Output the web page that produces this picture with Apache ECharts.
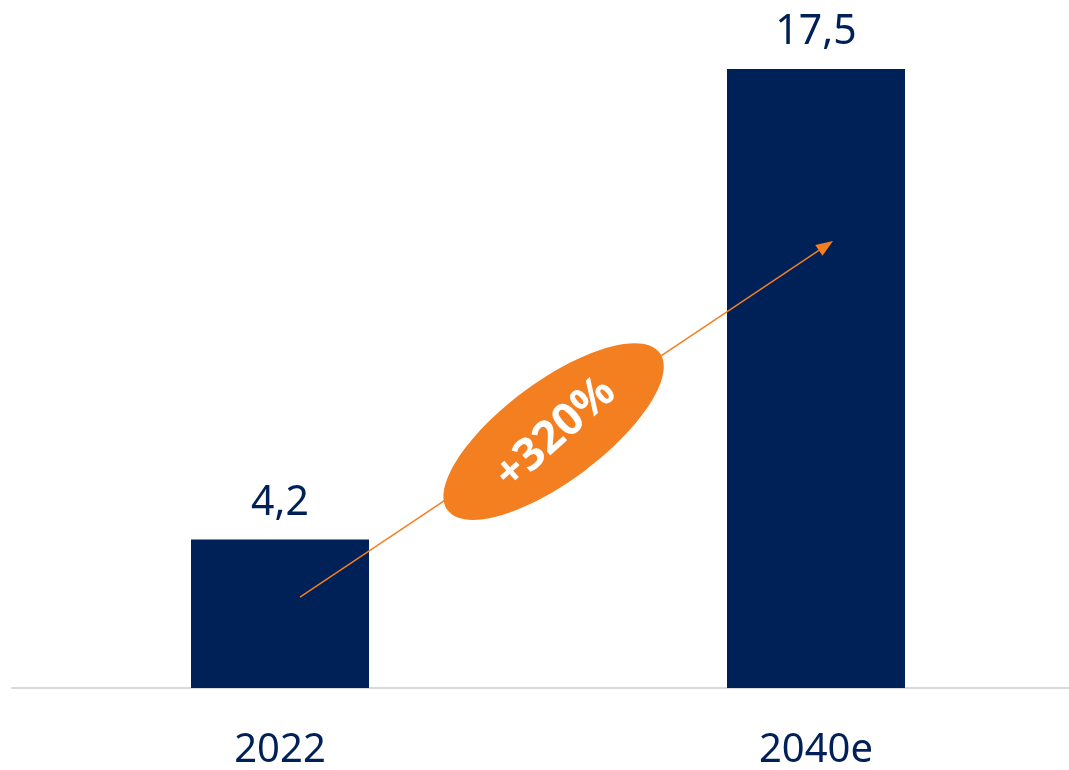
<!DOCTYPE html>
<html>
<head>
<meta charset="utf-8">
<script src="https://cdn.jsdelivr.net/npm/echarts@6/dist/echarts.min.js"></script>
<style>
  html, body { margin: 0; padding: 0; background: #ffffff; }
  #chart { width: 1069px; height: 770px; }
</style>
</head>
<body>
<div id="chart"></div>
<script>
// Market volume, 2022 vs. 2040 estimate
const years = ['2022', '2040e'];
const volumes = [4.2, 17.5];
const growthLabel = '+320%';
// Growth arrow runs from inside the first bar to inside the second one (value units)
const arrowFromValue = 2.57;
const arrowToValue = 12.64;

const NAVY = '#002157';
const ORANGE = '#F37F21';
const FONT = '"Noto Sans", "Open Sans", sans-serif';

const chart = echarts.init(document.getElementById('chart'), null, { renderer: 'canvas' });

const fmt = v => String(v).replace('.', ',');

chart.setOption({
  animation: false,
  backgroundColor: '#ffffff',
  grid: {
    left: 12, top: 69, width: 1072, bottom: 82,
    containLabel: false, outerBoundsMode: 'none'
  },
  xAxis: {
    type: 'category',
    data: years,
    axisLine: { show: true, lineStyle: { color: '#D9D9D9', width: 2 } },
    axisTick: { show: false },
    axisLabel: {
      color: NAVY, fontSize: 40, fontFamily: FONT, margin: 43
    }
  },
  yAxis: {
    type: 'value',
    min: 0,
    max: 17.5,
    show: false,
    splitLine: { show: false }
  },
  series: [{
    type: 'bar',
    data: volumes,
    barWidth: 178,
    itemStyle: { color: NAVY },
    label: {
      show: true,
      position: 'top',
      distance: 16,
      color: NAVY,
      fontSize: 41,
      fontFamily: FONT,
      formatter: p => fmt(p.value)
    }
  }]
});

// Growth annotation: arrow, ellipse and label placed through the chart's own scales
function drawAnnotation() {
  const p0 = chart.convertToPixel({ gridIndex: 0 }, [0, arrowFromValue]);
  const p1 = chart.convertToPixel({ gridIndex: 0 }, [1, arrowToValue]);
  const x0 = p0[0] + 20, y0 = p0[1];
  const x1 = p1[0] + 17, y1 = p1[1];
  const ang = Math.atan2(y0 - y1, x1 - x0);
  const head = 17, headHalf = 6.5;
  const ux = Math.cos(ang), uy = -Math.sin(ang);
  const bx = x1 - ux * head, by = y1 - uy * head;
  const nx = -uy, ny = ux;
  const t = 0.476;
  const cx = x0 + (x1 - x0) * t, cy = y0 + (y1 - y0) * t + 4;

  chart.setOption({
    graphic: [
      {
        type: 'line', z: 10,
        shape: { x1: x0, y1: y0, x2: bx, y2: by },
        style: { stroke: ORANGE, lineWidth: 1.5 }
      },
      {
        type: 'polygon', z: 10,
        shape: { points: [[x1, y1], [bx + nx * headHalf, by + ny * headHalf], [bx - nx * headHalf, by - ny * headHalf]] },
        style: { fill: ORANGE }
      },
      {
        type: 'ellipse', z: 11,
        x: cx, y: cy, rotation: ang + 0.05,
        shape: { cx: 0, cy: 0, rx: 132, ry: 50 },
        style: { fill: ORANGE }
      },
      {
        type: 'text', z: 12,
        x: cx + 2, y: cy + 2, rotation: ang + 0.14,
        style: {
          text: growthLabel,
          fill: '#ffffff',
          font: 'bold 45px ' + FONT,
          align: 'center',
          verticalAlign: 'middle'
        }
      }
    ]
  });
}
drawAnnotation();
</script>
</body>
</html>
